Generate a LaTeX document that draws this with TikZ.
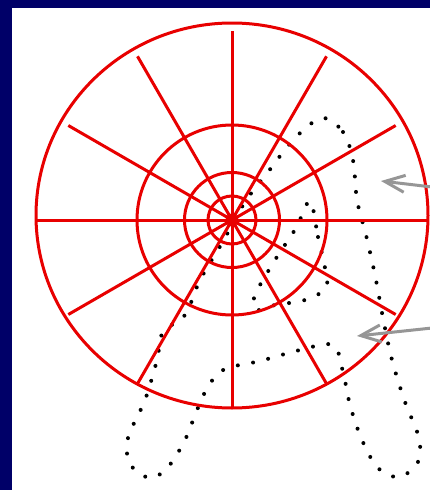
\documentclass[tikz,border=0pt]{standalone}
\usetikzlibrary{arrows.meta}
\definecolor{navy}{RGB}{0,0,104}
\definecolor{wheelred}{RGB}{232,0,0}
\definecolor{arrowgray}{RGB}{150,150,150}
\tikzset{
  wheel/.style={draw=wheelred, line width=3pt},
  dotpath/.style={draw=black, line width=4pt, line cap=round, dash pattern=on 0pt off 15.5pt},
  pointer/.style={draw=arrowgray, line width=3pt, -{Straight Barb[length=20pt,width=17pt]}}
}
\begin{document}
\begin{tikzpicture}[x=1pt,y=-1pt]
\useasboundingbox (0,0) rectangle (430,490);
\clip (0,0) rectangle (430,490);
\fill[navy] (0,0) rectangle (430,490);
\fill[white] (12,8) rectangle (432,492);
% dotted letter outline
\draw[dotpath] plot[smooth cycle, tension=0.55] coordinates {
 (322,118) (343,132) (353,160) (357,200) (366,235) (375,275) (383,318) (392,360)
 (405,402) (418,435) (419,460) (400,477) (378,468) (362,440) (350,405) (343,372)
 (333,345) (300,350) (260,361) (225,369) (209,385) (197,410) (185,440) (168,467)
 (150,478) (130,464) (128,438) (145,400) (157,360) (163,332) (185,315) (200,280)
 (222,243) (245,202) (268,172) (295,138)};
\draw[dotpath] plot[smooth cycle, tension=0.55] coordinates {
 (310,201) (318,237) (325,268) (326,288) (305,300) (275,305) (256,310) (255,295)
 (275,260) (296,228)};
% wheel
\coordinate (c) at (232,220);
\draw[wheel] (232,215.5) ellipse [x radius=196pt, y radius=192.5pt];
\draw[wheel] (c) circle [radius=95pt];
\draw[wheel] (c) circle [radius=47.5pt];
\draw[wheel] (c) circle [radius=24pt];
\fill[wheelred] (c) circle [radius=6.5pt];
\draw[wheel] (36,220) -- (428,220);
\draw[wheel] (232,31) -- (232,408);
\foreach \a in {30,60,120,150,210,240,300,330}
  \draw[wheel] (c) -- ++(\a:189);
% pointers
\coordinate (p1s) at (432,187);
\coordinate (p1e) at (381,181);
\coordinate (p2s) at (432,328);
\coordinate (p2e) at (357,336);
\draw[pointer] (p1s) -- (p1e);
\draw[pointer] (p2s) -- (p2e);
\end{tikzpicture}
\end{document}
